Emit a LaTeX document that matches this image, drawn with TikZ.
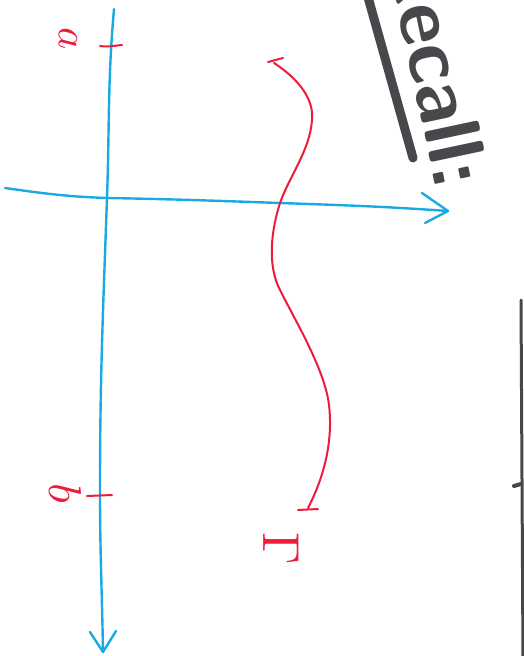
\documentclass[tikz,border=0pt]{standalone}
\usepackage{tikz}
\definecolor{penblue}{RGB}{25,170,228}
\definecolor{penred}{RGB}{236,28,58}
\definecolor{pengray}{RGB}{72,72,76}
\tikzset{
  axisline/.style={penblue,line width=2.4pt,line cap=round,line join=round},
  curveline/.style={penred,line width=2pt,line cap=round,line join=round},
  tickline/.style={penred,line width=2pt,line cap=round},
  redlabel/.style={penred,inner sep=0pt,rotate=-90},
  marker/.style={pengray,line cap=round}
}
\begin{document}
\begin{tikzpicture}[x=1pt,y=-1pt]
\useasboundingbox (0,0) rectangle (524,656);
\clip (0,0) rectangle (524,656);
% coordinates
\coordinate (vtop) at (114,9);
\coordinate (vtip) at (103,652);
\coordinate (varmL) at (90,632);
\coordinate (varmR) at (116,631);
\coordinate (hleft) at (5,188);
\coordinate (htip) at (448,211);
\coordinate (harmU) at (422,193);
\coordinate (harmD) at (425,223);
\coordinate (cstart) at (274,63);
\coordinate (cend) at (308,508);
% vertical axis (pointing down)
\draw[axisline] (vtop) to[out=-95,in=88] (107,198) to[out=-92,in=90] (100,490) to[out=-90,in=91] (vtip);
\draw[axisline] (varmL) -- (vtip) -- (varmR);
% horizontal axis (pointing right)
\draw[axisline] (hleft) to[out=-8,in=178] (107,198) to[out=-1,in=178] (280,203) to[out=-2,in=176] (htip);
\draw[axisline] (harmU) -- (htip) -- (harmD);
% ticks
\draw[tickline] (100,46) to[out=-8,in=185] (122,45);
\draw[tickline] (87,496) -- (112,495);
\draw[tickline] (268,62) -- (283,58);
\draw[tickline] (298,510) -- (318,509);
% red curve
\draw[curveline] (cstart) .. controls (300,80) and (314,100) .. (312,120)
  .. controls (310,150) and (290,175) .. (280,203)
  .. controls (272,228) and (266,265) .. (281,292)
  .. controls (295,320) and (325,370) .. (329,405)
  .. controls (333,440) and (325,475) .. (cend);
% labels
\node[redlabel] (la) at (68,39) {\scalebox{4.2}{$a$}};
\node[redlabel] (lb) at (65,493) {\scalebox{4.6}{$b$}};
\node[redlabel] (lg) at (281,549) {\scalebox{5.2}{$\Gamma$}};
% Recall heading (cut off at the top)
\draw[marker,line width=9pt] (366,-10) -- (413,158);
\node[pengray,rotate=-78,anchor=base east,inner sep=0pt,font=\fontsize{80}{80}\selectfont\sffamily\bfseries] (rec) at (437,192) {Recall:};
% frame edge on the right
\draw[marker,line width=3pt] (521,300) -- (523,660);
\draw[marker,line width=4pt] (514,486) -- (521,484);
\end{tikzpicture}
\end{document}
